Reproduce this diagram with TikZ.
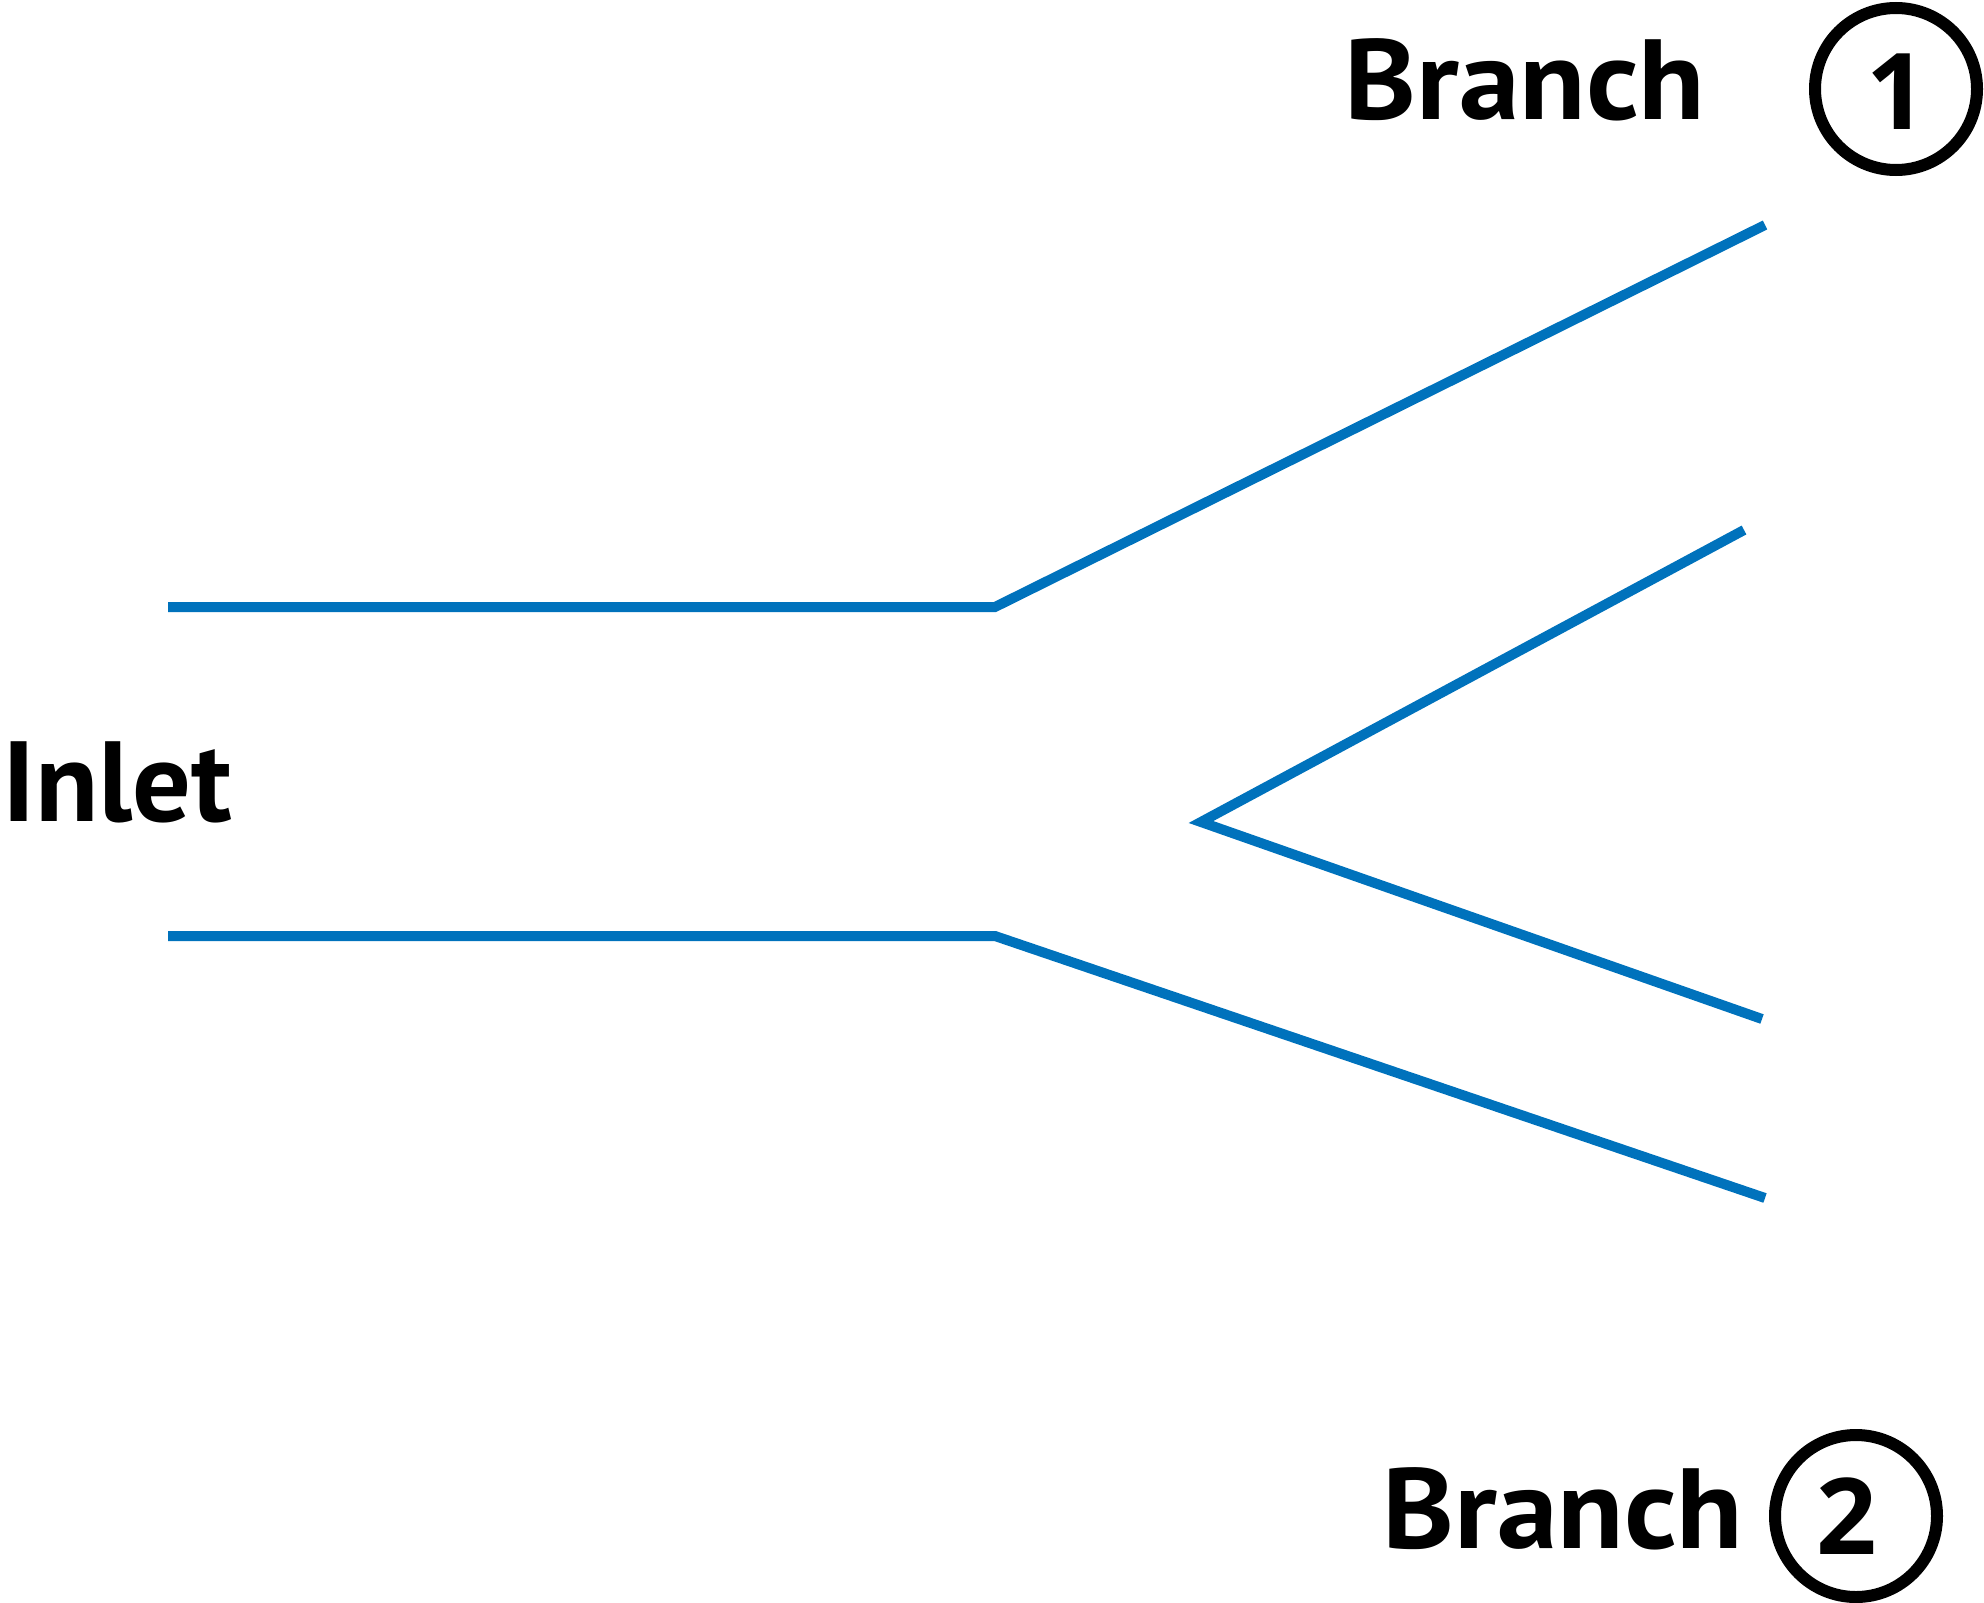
\documentclass[tikz,border=0pt]{standalone}
\usepackage{fontspec}
\setmainfont{PT Sans}
\newfontfamily\branchfont[FakeStretch=1.07]{PT Sans}
\newfontfamily\inletfont[FakeStretch=1.02]{PT Sans}
\newfontfamily\digitfont{Open Sans}
\definecolor{pipeblue}{RGB}{0,114,188}
\tikzset{
  pipe/.style={draw=pipeblue, line width=10pt, line join=miter},
  lbl/.style={inner sep=0pt, anchor=base west},
  ring/.style={circle, draw=black, line width=12pt, minimum size=162pt, inner sep=0pt},
  digit/.style={inner sep=0pt, font=\digitfont\bfseries\fontsize{106}{130}\selectfont}
}
\begin{document}
\begin{tikzpicture}[x=1pt,y=-1pt]
\useasboundingbox (0,0) rectangle (1984,1603);
% upper wall
\coordinate (u0) at (168,607);
\coordinate (u1) at (995,607);
\coordinate (u2) at (1765,225);
% lower wall
\coordinate (l0) at (168,936);
\coordinate (l1) at (995,936);
\coordinate (l2) at (1765,1198);
% inner wedge
\coordinate (w0) at (1744,530);
\coordinate (w1) at (1201,822);
\coordinate (w2) at (1762,1019);
\draw[pipe] (u0) -- (u1) -- (u2);
\draw[pipe] (l0) -- (l1) -- (l2);
\draw[pipe] (w0) -- (w1) -- (w2);
% labels
\node[lbl, font=\inletfont\bfseries\fontsize{114}{130}\selectfont] (inlet) at (2,821) {Inlet};
\node[lbl, font=\branchfont\bfseries\fontsize{114}{130}\selectfont] (b1) at (1344,119) {Branch};
\node[lbl, font=\branchfont\bfseries\fontsize{114}{130}\selectfont] (b2) at (1382,1548) {Branch};
\node[ring] (c1) at (1896,89) {};
\node[ring] (c2) at (1856,1516) {};
\node[digit] (d1) at (1897,92) {1};
\node[digit] (d2) at (1847,1516) {2};
\end{tikzpicture}
\end{document}
